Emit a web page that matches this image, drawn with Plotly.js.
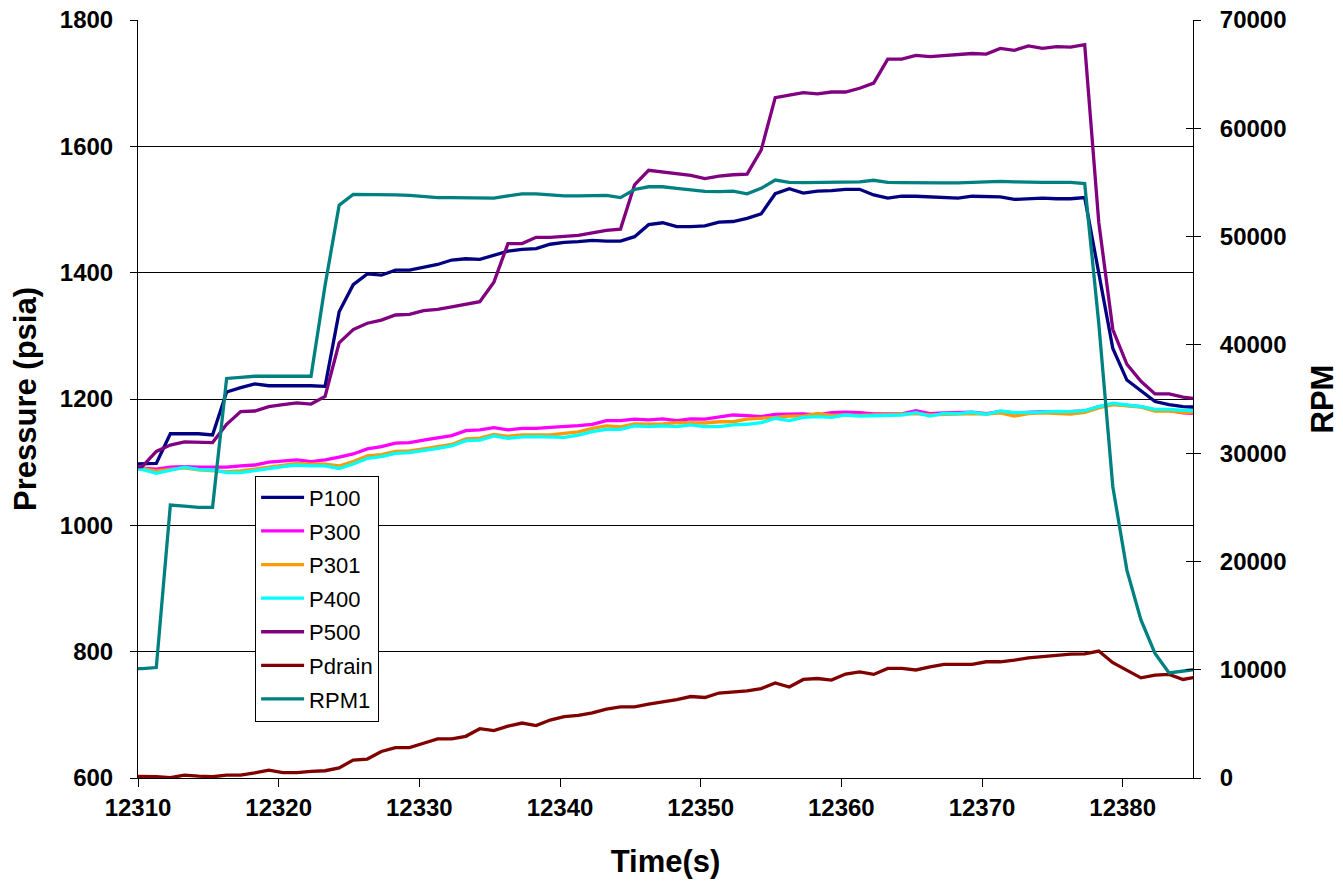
<!DOCTYPE html>
<html>
<head>
<meta charset="utf-8">
<script src="https://cdn.plot.ly/plotly-3.0.1.min.js"></script>
<style>
  html, body { margin: 0; padding: 0; background: #ffffff; }
  #chart { width: 1343px; height: 886px; }
</style>
</head>
<body>
<div id="chart"></div>
<script>
// Time stamps (s)
const time = [12309.3,12310.3,12311.3,12312.3,12313.3,12314.3,12315.3,12316.3,12317.3,12318.3,
  12319.3,12320.3,12321.3,12322.3,12323.3,12324.3,12325.3,12326.3,12327.3,12328.3,
  12329.3,12330.3,12331.3,12332.3,12333.3,12334.3,12335.3,12336.3,12337.3,12338.3,
  12339.3,12340.3,12341.3,12342.3,12343.3,12344.3,12345.3,12346.3,12347.3,12348.3,
  12349.3,12350.3,12351.3,12352.3,12353.3,12354.3,12355.3,12356.3,12357.3,12358.3,
  12359.3,12360.3,12361.3,12362.3,12363.3,12364.3,12365.3,12366.3,12367.3,12368.3,
  12369.3,12370.3,12371.3,12372.3,12373.3,12374.3,12375.3,12376.3,12377.3,12378.3,
  12379.3,12380.3,12381.3,12382.3,12383.3,12384.3,12385.3];

// Pressures (psia)
const P100 = [1097,1097,1098,1145,1145,1145,1143,1211,1218,1224,
  1221,1221,1222,1221,1220,1338,1381,1398,1396,1404,
  1404,1408,1413,1420,1422,1421,1428,1434,1437,1438,
  1445,1448,1449,1451,1450,1450,1457,1476,1479,1473,
  1473,1474,1480,1481,1486,1493,1525,1533,1526,1529,
  1530,1532,1532,1523,1518,1521,1521,1520,1520,1518,
  1521,1520,1520,1516,1517,1518,1517,1517,1519,1400,
  1280,1230,1213,1196,1191,1188,1187];

const P300 = [1092,1091,1089,1092,1093,1092,1092,1092,1094,1095.5,
  1100,1102,1103.5,1101,1103.5,1108,1113,1121,1124.5,1130,
  1131,1135,1139,1142,1150,1151,1154.5,1151,1153.5,1153.6,
  1155,1156,1158,1160,1165.7,1165.7,1168,1167,1168.4,1165.7,
  1168.4,1168,1171,1174.7,1173.6,1172,1175.8,1175.8,1176.3,1174.7,
  1178.4,1179,1178.4,1176.3,1176.3,1176.3,1181.5,1177,1178,1178,
  1179,1177,1180,1178,1179,1180,1179,1180,1181,1188,
  1192,1190,1188,1183,1182,1178,1177];

const P301 = [1090,1090,1086,1089,1091,1088,1087,1085,1086,1089,
  1093,1096,1098,1097,1097,1094,1101,1110,1112,1117,
  1118,1121,1125,1128,1137,1138,1144,1141,1143,1143,
  1143,1145.7,1148,1153.6,1157.3,1156,1160.4,1160,1160.4,1162.5,
  1162,1162,1164,1164,1168,1169,1171,1173,1173,1177,
  1174,1175,1174,1175,1176,1176,1177,1175,1176,1176,
  1177,1176,1178,1173,1177,1178,1177,1176,1179,1186,
  1191,1189,1187,1181,1181,1179,1178];

const P400 = [1089,1088.7,1082.4,1087.6,1092,1088.7,1087.6,1083.4,1083.4,1086.5,
  1090,1093,1095.5,1094,1094,1090,1097,1106,1108.7,1114,
  1115,1118,1122,1125.6,1134,1135,1141.5,1137.8,1140,1140.4,
  1140.4,1139.4,1143,1148.3,1152,1152,1157.3,1156.2,1157.3,1156.2,
  1158.9,1156.2,1156.2,1158.9,1160,1162.5,1169.5,1165.7,1171,1172,
  1171,1174.7,1173,1173.6,1174.7,1174.7,1178.4,1173,1177.3,1177,
  1179,1175.8,1181,1178.4,1178.5,1180,1180.5,1180,1181.5,1188,
  1193.3,1190.5,1188,1183.7,1183.7,1182,1181.5];

const P500 = [1092,1093,1117,1127,1132,1132,1131,1160,1180,1181,
  1188,1191,1194,1192,1204,1289,1310,1320,1325,1333,
  1334,1340,1342,1346,1350,1354,1385,1446,1446,1456,
  1456,1457,1459,1463,1467,1469,1539,1562,1559,1556,
  1554,1549,1553,1555,1556,1594,1677,1681,1685,1683,
  1686,1686,1692,1700,1738,1738,1744,1742,1744,1745,
  1747,1746,1755,1752,1759,1755,1758,1757,1761,1480,
  1310,1255,1228,1208,1208,1203,1200];

const Pdrain = [603,603,602,600.5,604.5,603,602,604.5,604.5,608,
  612.5,608.5,608.5,610.5,611.5,616,628.5,630,642,648,
  648,655,662,662,666,678,675,682,687,683,
  691.7,697,699,703,709,712.6,712.6,717,720.5,724,
  729,727.5,734.5,736,738,741.5,750.5,744,756,757.5,
  755,764.5,768,764,773.5,773.5,771,776,780,780,
  780,784,784,786.5,790,792,794.5,796,796.5,801,
  782.5,771,758.5,763,764,756,760];

// Shaft speed (RPM)
const RPM1 = [10100,10100,10200,25200,25100,25000,25000,36900,37000,37100,
  37100,37100,37100,37100,45500,52900,53900,53900,53900,53850,
  53800,53700,53600,53600,53600,53550,53550,53750,53950,53950,
  53850,53750,53750,53750,53800,53600,54350,54600,54600,54450,
  54300,54180,54150,54200,53950,54450,55220,55000,54980,55000,
  55050,55050,55050,55200,55000,54980,54950,54950,54950,54950,
  55000,55100,55100,55050,55000,55000,55000,55000,54900,42000,
  26900,19200,14600,11500,9700,9900,10050];

const xTicks = [12310,12320,12330,12340,12350,12360,12370,12380];

const FONT = '"Liberation Sans", Arial, Helvetica, sans-serif';

const series = [
  {name: 'P100',   y: P100,   color: '#000080', axis: 'y'},
  {name: 'P300',   y: P300,   color: '#FF00FF', axis: 'y'},
  {name: 'P301',   y: P301,   color: '#FF9900', axis: 'y'},
  {name: 'P400',   y: P400,   color: '#00FFFF', axis: 'y'},
  {name: 'P500',   y: P500,   color: '#800080', axis: 'y'},
  {name: 'Pdrain', y: Pdrain, color: '#800000', axis: 'y'},
  {name: 'RPM1',   y: RPM1,   color: '#008080', axis: 'y2'}
];

const traces = series.map(s => ({
  type: 'scatter',
  mode: 'lines',
  name: s.name,
  legendgroup: s.name,
  x: time,
  y: s.y,
  yaxis: s.axis,
  line: {color: s.color, width: 3.3}
}));

const tickFont = {family: FONT, size: 24, color: '#000', weight: 'bold'};
const titleFont = {family: FONT, size: 31, color: '#000', weight: 'bold'};

const layout = {
  width: 1343,
  height: 886,
  paper_bgcolor: '#ffffff',
  plot_bgcolor: '#ffffff',
  margin: {l: 138, r: 150, t: 20, b: 108},
  showlegend: true,
  legend: {
    x: 0.111, y: 0.399, xanchor: 'left', yanchor: 'top',
    bgcolor: '#ffffff', bordercolor: '#000000', borderwidth: 1,
    font: {family: FONT, size: 22, color: '#000'},
    traceorder: 'grouped', tracegroupgap: 2,
    itemwidth: 43
  },
  xaxis: {
    range: [12310, 12385],
    tickvals: xTicks,
    tickformat: 'd',
    showline: true, linecolor: '#000', linewidth: 1,
    ticks: 'outside', ticklen: 8, tickcolor: '#000',
    showgrid: false, zeroline: false,
    tickfont: tickFont,
    title: {text: 'Time(s)', font: titleFont, standoff: 30}
  },
  yaxis: {
    range: [600, 1800],
    dtick: 200, tick0: 600,
    tickformat: 'd',
    showline: true, linecolor: '#000', linewidth: 1,
    ticks: 'outside', ticklen: 7, tickcolor: '#000',
    showgrid: true, gridcolor: '#000', gridwidth: 1,
    zeroline: false,
    tickfont: tickFont,
    ticklabelstandoff: 12,
    title: {text: 'Pressure (psia)', font: titleFont, standoff: 13}
  },
  yaxis2: {
    overlaying: 'y', side: 'right', anchor: 'x',
    range: [0, 70000],
    dtick: 10000, tick0: 0,
    tickformat: 'd',
    showline: true, linecolor: '#000', linewidth: 1,
    ticks: 'outside', ticklen: 7, tickcolor: '#000',
    showgrid: false, zeroline: false,
    tickfont: tickFont,
    ticklabelstandoff: 14,
    title: {text: 'RPM', font: titleFont, standoff: 25}
  },
  yaxis3: {
    overlaying: 'y', side: 'right', anchor: 'x',
    range: [0, 70000],
    dtick: 10000, tick0: 0,
    ticks: 'inside', ticklen: 7, tickcolor: '#000',
    showticklabels: false, showline: false,
    showgrid: false, zeroline: false
  }
};

// invisible helper trace so the inside tick marks of yaxis3 are drawn
traces.push({type: 'scatter', mode: 'lines', x: [12310, 12385], y: [0, 0], yaxis: 'y3',
  line: {width: 0}, showlegend: false, hoverinfo: 'skip'});

Plotly.newPlot('chart', traces, layout, {displayModeBar: false, staticPlot: true});
</script>
</body>
</html>
